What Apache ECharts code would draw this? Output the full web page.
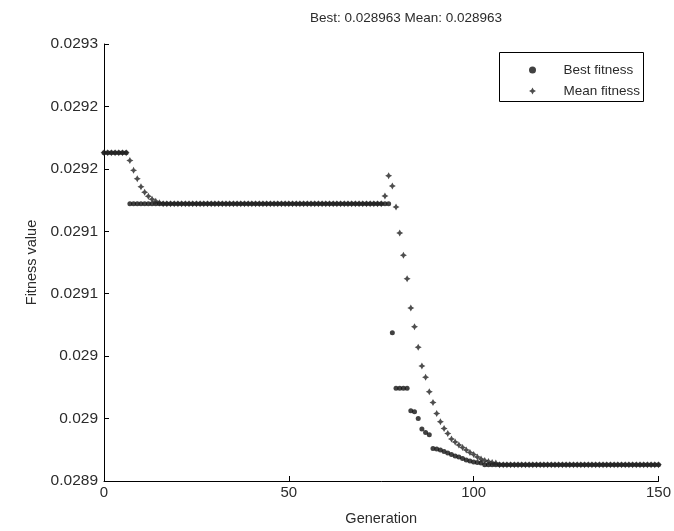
<!DOCTYPE html>
<html>
<head>
<meta charset="utf-8">
<script src="https://cdn.jsdelivr.net/npm/echarts@6/dist/echarts.min.js"></script>
<style>
  html, body { margin: 0; padding: 0; background: #fff; }
  #gaChart { width: 674px; height: 531px; }
</style>
</head>
<body>
<div id="gaChart"></div>
<script>
// best fitness per generation (0..150)
const bestFitness = [
  0.029213, 0.029213, 0.029213, 0.029213, 0.029213, 0.029213, 0.029213, 0.029172, 0.029172, 0.029172,
  0.029172, 0.029172, 0.029172, 0.029172, 0.029172, 0.029172, 0.029172, 0.029172, 0.029172, 0.029172,
  0.029172, 0.029172, 0.029172, 0.029172, 0.029172, 0.029172, 0.029172, 0.029172, 0.029172, 0.029172,
  0.029172, 0.029172, 0.029172, 0.029172, 0.029172, 0.029172, 0.029172, 0.029172, 0.029172, 0.029172,
  0.029172, 0.029172, 0.029172, 0.029172, 0.029172, 0.029172, 0.029172, 0.029172, 0.029172, 0.029172,
  0.029172, 0.029172, 0.029172, 0.029172, 0.029172, 0.029172, 0.029172, 0.029172, 0.029172, 0.029172,
  0.029172, 0.029172, 0.029172, 0.029172, 0.029172, 0.029172, 0.029172, 0.029172, 0.029172, 0.029172,
  0.029172, 0.029172, 0.029172, 0.029172, 0.029172, 0.029172, 0.029172, 0.029172, 0.0290688, 0.0290243,
  0.0290243, 0.0290243, 0.0290243, 0.0290062, 0.0290054, 0.0290001, 0.0289916, 0.0289889, 0.028987, 0.0289761,
  0.0289756, 0.0289748, 0.0289736, 0.0289724, 0.0289712, 0.02897, 0.0289692, 0.028968, 0.0289668, 0.028966,
  0.0289652, 0.0289648, 0.0289644, 0.028963, 0.028963, 0.028963, 0.028963, 0.028963, 0.028963, 0.028963,
  0.028963, 0.028963, 0.028963, 0.028963, 0.028963, 0.028963, 0.028963, 0.028963, 0.028963, 0.028963,
  0.028963, 0.028963, 0.028963, 0.028963, 0.028963, 0.028963, 0.028963, 0.028963, 0.028963, 0.028963,
  0.028963, 0.028963, 0.028963, 0.028963, 0.028963, 0.028963, 0.028963, 0.028963, 0.028963, 0.028963,
  0.028963, 0.028963, 0.028963, 0.028963, 0.028963, 0.028963, 0.028963, 0.028963, 0.028963, 0.028963,
  0.028963
];

// mean fitness per generation (0..150)
const meanFitness = [
  0.029213, 0.029213, 0.029213, 0.029213, 0.029213, 0.029213, 0.029213, 0.0292067, 0.0291988, 0.0291921,
  0.0291857, 0.0291813, 0.0291781, 0.0291757, 0.0291741, 0.0291729, 0.029172, 0.029172, 0.029172, 0.029172,
  0.029172, 0.029172, 0.029172, 0.029172, 0.029172, 0.029172, 0.029172, 0.029172, 0.029172, 0.029172,
  0.029172, 0.029172, 0.029172, 0.029172, 0.029172, 0.029172, 0.029172, 0.029172, 0.029172, 0.029172,
  0.029172, 0.029172, 0.029172, 0.029172, 0.029172, 0.029172, 0.029172, 0.029172, 0.029172, 0.029172,
  0.029172, 0.029172, 0.029172, 0.029172, 0.029172, 0.029172, 0.029172, 0.029172, 0.029172, 0.029172,
  0.029172, 0.029172, 0.029172, 0.029172, 0.029172, 0.029172, 0.029172, 0.029172, 0.029172, 0.029172,
  0.029172, 0.029172, 0.029172, 0.029172, 0.029172, 0.029172, 0.0291783, 0.0291945, 0.0291863, 0.0291695,
  0.0291487, 0.0291308, 0.029112, 0.0290885, 0.0290736, 0.0290571, 0.0290421, 0.0290331, 0.0290215, 0.0290129,
  0.0290041, 0.0289974, 0.0289921, 0.0289881, 0.0289836, 0.0289812, 0.0289788, 0.0289768, 0.0289748, 0.0289728,
  0.0289712, 0.0289692, 0.0289676, 0.0289664, 0.0289656, 0.0289648, 0.0289644, 0.028963, 0.028963, 0.028963,
  0.028963, 0.028963, 0.028963, 0.028963, 0.028963, 0.028963, 0.028963, 0.028963, 0.028963, 0.028963,
  0.028963, 0.028963, 0.028963, 0.028963, 0.028963, 0.028963, 0.028963, 0.028963, 0.028963, 0.028963,
  0.028963, 0.028963, 0.028963, 0.028963, 0.028963, 0.028963, 0.028963, 0.028963, 0.028963, 0.028963,
  0.028963, 0.028963, 0.028963, 0.028963, 0.028963, 0.028963, 0.028963, 0.028963, 0.028963, 0.028963,
  0.028963
];

// y tick labels as printed (bottom -> top), step 0.00005 from 0.02895
const yTickLabels = ['0.0289', '0.029', '0.029', '0.0291', '0.0291', '0.0292', '0.0292', '0.0293'];
const yMin = 0.02895;
const yMax = 0.0293;
const yStep = 0.00005;
const xTicks = [0, 50, 100, 150];

const titleText = 'Best: 0.028963 Mean: 0.028963';
const seriesNames = ['Best fitness', 'Mean fitness'];

const font = 'Liberation Sans, Arial, sans-serif';
const textColor = '#2b2b2b';
// little 4-point star, like the matlab marker after scanning
const starPath = 'path://M0,-10L3.5,-3.5L10,0L3.5,3.5L0,10L-3.5,3.5L-10,0L-3.5,-3.5Z';

let myChart = echarts.init(document.getElementById('gaChart'));
let option = {
  backgroundColor: '#fff',
  animation: false,
  textStyle: { fontFamily: font },
  title: {
    text: titleText,
    left: 401,
    textAlign: 'center',
    top: 6,
    textStyle: { fontSize: 13.5, fontWeight: 'normal', color: textColor, fontFamily: font },
  },
  graphic: [
    {
      // legend box
      type: 'rect',
      z: 1,
      shape: { x: 499.5, y: 52.5, width: 144, height: 49 },
      style: { fill: '#fff', stroke: '#000', lineWidth: 1 },
    },
  ],
  legend: {
    z: 10,
    data: seriesNames,
    orient: 'vertical',
    left: 524,
    top: 58,
    itemWidth: 20,
    itemHeight: 7,
    itemGap: 7,
    textStyle: { fontSize: 13.5, color: textColor, fontFamily: font, padding: [0, 0, 0, 16] },
  },
  grid: {
    left: 104,
    right: 13,
    top: 44,
    bottom: 49,
  },
  xAxis: {
    type: 'value',
    min: xTicks[0],
    max: xTicks[xTicks.length - 1],
    interval: 50,
    name: 'Generation',
    nameLocation: 'middle',
    nameGap: 30,
    nameTextStyle: { fontSize: 14.5, color: textColor, fontFamily: font },
    axisLine: { show: true, lineStyle: { color: '#000', width: 1 } },
    axisTick: { show: true, inside: true, length: 5, lineStyle: { color: '#000' } },
    axisLabel: { fontSize: 15, color: textColor, margin: 4, fontFamily: font },
    splitLine: { show: false },
  },
  yAxis: {
    type: 'value',
    min: yMin,
    max: yMax,
    interval: yStep,
    name: 'Fitness value',
    nameLocation: 'middle',
    nameRotate: 90,
    nameGap: 65,
    nameTextStyle: { fontSize: 14.5, color: textColor, fontFamily: font },
    axisLine: { show: true, lineStyle: { color: '#000', width: 1 } },
    axisTick: { show: true, inside: true, length: 5, lineStyle: { color: '#000' } },
    axisLabel: {
      fontSize: 15.5,
      color: textColor,
      margin: 6,
      fontFamily: font,
      formatter: function (v) {
        let idx = Math.round((v - yMin) / yStep);
        return yTickLabels[idx] !== undefined ? yTickLabels[idx] : '';
      },
    },
    splitLine: { show: false },
  },
  series: [
    {
      name: seriesNames[0],
      type: 'scatter',
      symbol: 'circle',
      symbolSize: 5,
      itemStyle: { color: '#111' },
      data: bestFitness.map((v, i) => [i, v]),
    },
    {
      name: seriesNames[1],
      type: 'scatter',
      symbol: starPath,
      symbolSize: 7,
      itemStyle: { color: '#222' },
      data: meanFitness.map((v, i) => [i, v]),
    },
  ],
};
myChart.setOption(option, true);
window.addEventListener('resize', () => {
  myChart.resize();
});
</script>
</body>
</html>
